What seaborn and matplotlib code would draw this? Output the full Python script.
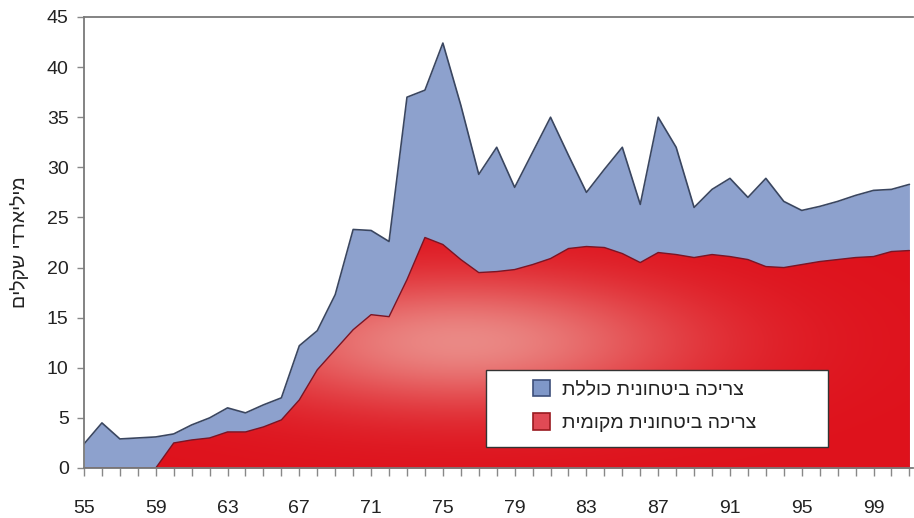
"""
Defense consumption chart: total vs local, 1955-2001
"""

import numpy as np
import pandas as pd
import seaborn as sns
import matplotlib.pyplot as plt
from matplotlib.patches import Patch, Rectangle

# data (billions of shekels)
years = list(range(55, 102))
total = [2.4, 4.5, 2.9, 3.0, 3.1, 3.4, 4.3, 5.0, 6.0, 5.5,
         6.3, 7.0, 12.2, 13.7, 17.3, 23.8, 23.7, 22.6, 37.0, 37.7,
         42.4, 36.2, 29.3, 32.0, 28.0, 31.5, 35.0, 31.2, 27.5, 29.8,
         32.0, 26.3, 35.0, 32.0, 26.0, 27.8, 28.9, 27.0, 28.9, 26.6,
         25.7, 26.1, 26.6, 27.2, 27.7, 27.8, 28.3]
local = [0, 0, 0, 0, 0, 2.5, 2.8, 3.0, 3.6, 3.6,
         4.1, 4.8, 6.8, 9.8, 11.8, 13.8, 15.3, 15.1, 18.8, 23.0,
         22.3, 20.8, 19.5, 19.6, 19.8, 20.3, 20.9, 21.9, 22.1, 22.0,
         21.4, 20.5, 21.5, 21.3, 21.0, 21.3, 21.1, 20.8, 20.1, 20.0,
         20.3, 20.6, 20.8, 21.0, 21.1, 21.6, 21.7]
x_labels = [str(y) for y in range(55, 100, 4)]
y_ticks = list(range(0, 50, 5))

label_total = "צריכה ביטחונית כוללת"
label_local = "צריכה ביטחונית מקומית"
y_title = "מיליארדי שקלים"


def rtl(s):
    # matplotlib has no bidi support, so flip hebrew for display
    return s[::-1]


df = pd.DataFrame({"year": years, "total": total, "local": local})

sns.set_theme(style="white")
plt.rcParams["font.family"] = ["Liberation Sans", "DejaVu Sans"]

fig = plt.figure(figsize=(9.14, 5.18), dpi=100)
ax = fig.add_axes([84 / 914, 50 / 518, 829 / 914, 451 / 518])

blue = "#8da1cd"
# total area
ax.fill_between(df["year"], 0, df["total"], color=blue, lw=0, zorder=1)
sns.lineplot(data=df, x="year", y="total", ax=ax, color="#3a4660", lw=1.2, zorder=4)

# local area with a soft gradient
poly = ax.fill_between(df["year"], 0, df["local"], color="#dc1420", lw=0, zorder=2)
gx = np.linspace(55, 101.2, 400)
gy = np.linspace(0, 45, 300)
GX, GY = np.meshgrid(gx, gy)
w = 0.9 * np.exp(-((GX - 76) / 12.5) ** 2) * np.exp(-((GY - 12.5) / 6.5) ** 2)
base = np.array([222, 18, 28]) / 255
light = np.array([236, 150, 145]) / 255
img = base[None, None, :] * (1 - w[..., None]) + light[None, None, :] * w[..., None]
im = ax.imshow(img, extent=[55, 101.2, 0, 45], origin="lower", aspect="auto", zorder=3)
im.set_clip_path(poly.get_paths()[0], transform=ax.transData)
sns.lineplot(data=df, x="year", y="local", ax=ax, color="#7a1525", lw=1.0, zorder=4)

ax.set_xlim(55, 101.2)
ax.set_ylim(0, 45)
ax.set_xticks(range(55, 100, 4))
ax.set_xticklabels(x_labels)
ax.set_xticks(years, minor=True)
ax.set_yticks(y_ticks)
ax.set_xlabel("")
ax.set_ylabel(rtl(y_title), fontsize=14, color="#222222")
ax.yaxis.set_label_coords(-0.066, 0.5)

ax.tick_params(axis="x", which="both", direction="out", length=6, width=1,
               color="#888888", bottom=True, labelsize=14, labelcolor="#222222", pad=17)
ax.tick_params(axis="y", direction="out", length=5, width=1, color="#888888",
               left=True, labelsize=14, labelcolor="#222222", pad=6)
for side in ["left", "top", "bottom"]:
    ax.spines[side].set_color("#7a7a7a")
    ax.spines[side].set_linewidth(1.3)
    ax.spines[side].set_zorder(6)
ax.spines["right"].set_visible(False)

# legend box
ax.add_patch(Rectangle((0.485, 0.0466), 0.4125, 0.1707, transform=ax.transAxes,
                       facecolor="white", edgecolor="#333333", lw=1.0, zorder=7))
handles = [Patch(facecolor="#7f97c8", edgecolor="#3d4f7a", lw=1.2, label=rtl(label_total)),
           Patch(facecolor="#e04a55", edgecolor="#9a1a20", lw=1.2, label=rtl(label_local))]
leg = ax.legend(handles=handles, loc="upper left", bbox_to_anchor=(0.5416, 0.195),
                frameon=False, fontsize=14, handlelength=0.9, handleheight=0.9,
                handletextpad=0.6, labelspacing=0.75, borderpad=0, borderaxespad=0)
leg.set_zorder(8)
for t in leg.get_texts():
    t.set_color("#222222")

fig.savefig("out.png", dpi=100)
